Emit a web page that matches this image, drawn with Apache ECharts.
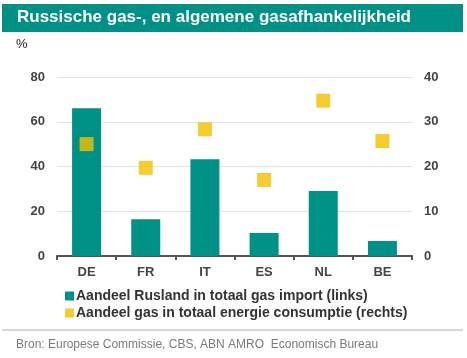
<!DOCTYPE html>
<html><head><meta charset="utf-8">
<script src="https://cdn.jsdelivr.net/npm/echarts@6/dist/echarts.min.js"></script>
<style>html,body{margin:0;padding:0;background:#fff}#c{width:467px;height:358px}</style>
</head><body><div id="c"></div>
<script>
const categories = ['DE','FR','IT','ES','NL','BE'];
const russiaShare = [66.0, 16.4, 43.2, 10.3, 29.0, 6.7];
const gasShare = [25.0, 19.7, 28.3, 17.0, 34.7, 25.7];
const leftTicks = [0, 20, 40, 60, 80];
const rightTicks = [0, 10, 20, 30, 40];
const seriesNames = ['Aandeel Rusland in totaal gas import (links)', 'Aandeel gas in totaal energie consumptie (rechts)'];

const teal = '#009186';
const gold = '#F2C000';
const font = 'Liberation Sans, Arial, sans-serif';
const chart = echarts.init(document.getElementById('c'), null, {renderer: 'canvas'});
chart.setOption({
  animation: false,
  textStyle: {fontFamily: font},
  graphic: [
    {type: 'rect', shape: {x: 2, y: 4, width: 461, height: 28}, style: {fill: teal}},
    {type: 'text', left: 17, top: 9, style: {text: 'Russische gas-, en algemene gasafhankelijkheid', fill: '#fff', font: 'bold 17px ' + font}},
    {type: 'text', left: 16, top: 38, style: {text: '%', fill: '#222', font: '13px ' + font}},
    {type: 'line', shape: {x1: 2, y1: 330, x2: 463, y2: 330}, style: {stroke: '#b0b0b0', lineWidth: 1}},
    {type: 'text', left: 16, top: 339, style: {text: 'Bron: Europese Commissie, CBS, ABN AMRO  Economisch Bureau', fill: '#7a7a7a', font: '12px ' + font}}
  ],
  grid: {left: 57, right: 55, top: 77, bottom: 102},
  legend: {
    orient: 'vertical', left: 60, top: 284, itemGap: 3, itemWidth: 9, itemHeight: 9,
    textStyle: {fontSize: 14, fontWeight: 'bold', color: '#333', padding: [0, 0, 0, -3]},
    data: [{name: seriesNames[0], icon: 'rect'}, {name: seriesNames[1], icon: 'rect'}]
  },
  xAxis: {
    type: 'category', data: categories,
    axisLine: {lineStyle: {color: '#555', width: 2}},
    axisTick: {show: true, length: 4, lineStyle: {color: '#555', width: 2}},
    axisLabel: {color: '#444', fontSize: 13, fontWeight: 'bold', margin: 10}
  },
  yAxis: [
    {type: 'value', min: leftTicks[0], max: leftTicks[leftTicks.length-1], interval: 20,
     axisLabel: {color: '#444', fontSize: 13, fontWeight: 'bold', margin: 12},
     axisLine: {show: false}, axisTick: {show: false},
     splitLine: {lineStyle: {color: '#e3e3e3', width: 1}}},
    {type: 'value', min: rightTicks[0], max: rightTicks[rightTicks.length-1], interval: 10, position: 'right',
     axisLabel: {color: '#444', fontSize: 13, fontWeight: 'bold', margin: 12},
     axisLine: {show: false}, axisTick: {show: false}, splitLine: {show: false}}
  ],
  series: [
    {name: seriesNames[0], type: 'bar', data: russiaShare, yAxisIndex: 0, barWidth: '49%', itemStyle: {color: teal}},
    {name: seriesNames[1], type: 'scatter', data: gasShare, yAxisIndex: 1, symbol: 'rect', symbolSize: 14, itemStyle: {color: gold}}
  ]
});
</script></body></html>
